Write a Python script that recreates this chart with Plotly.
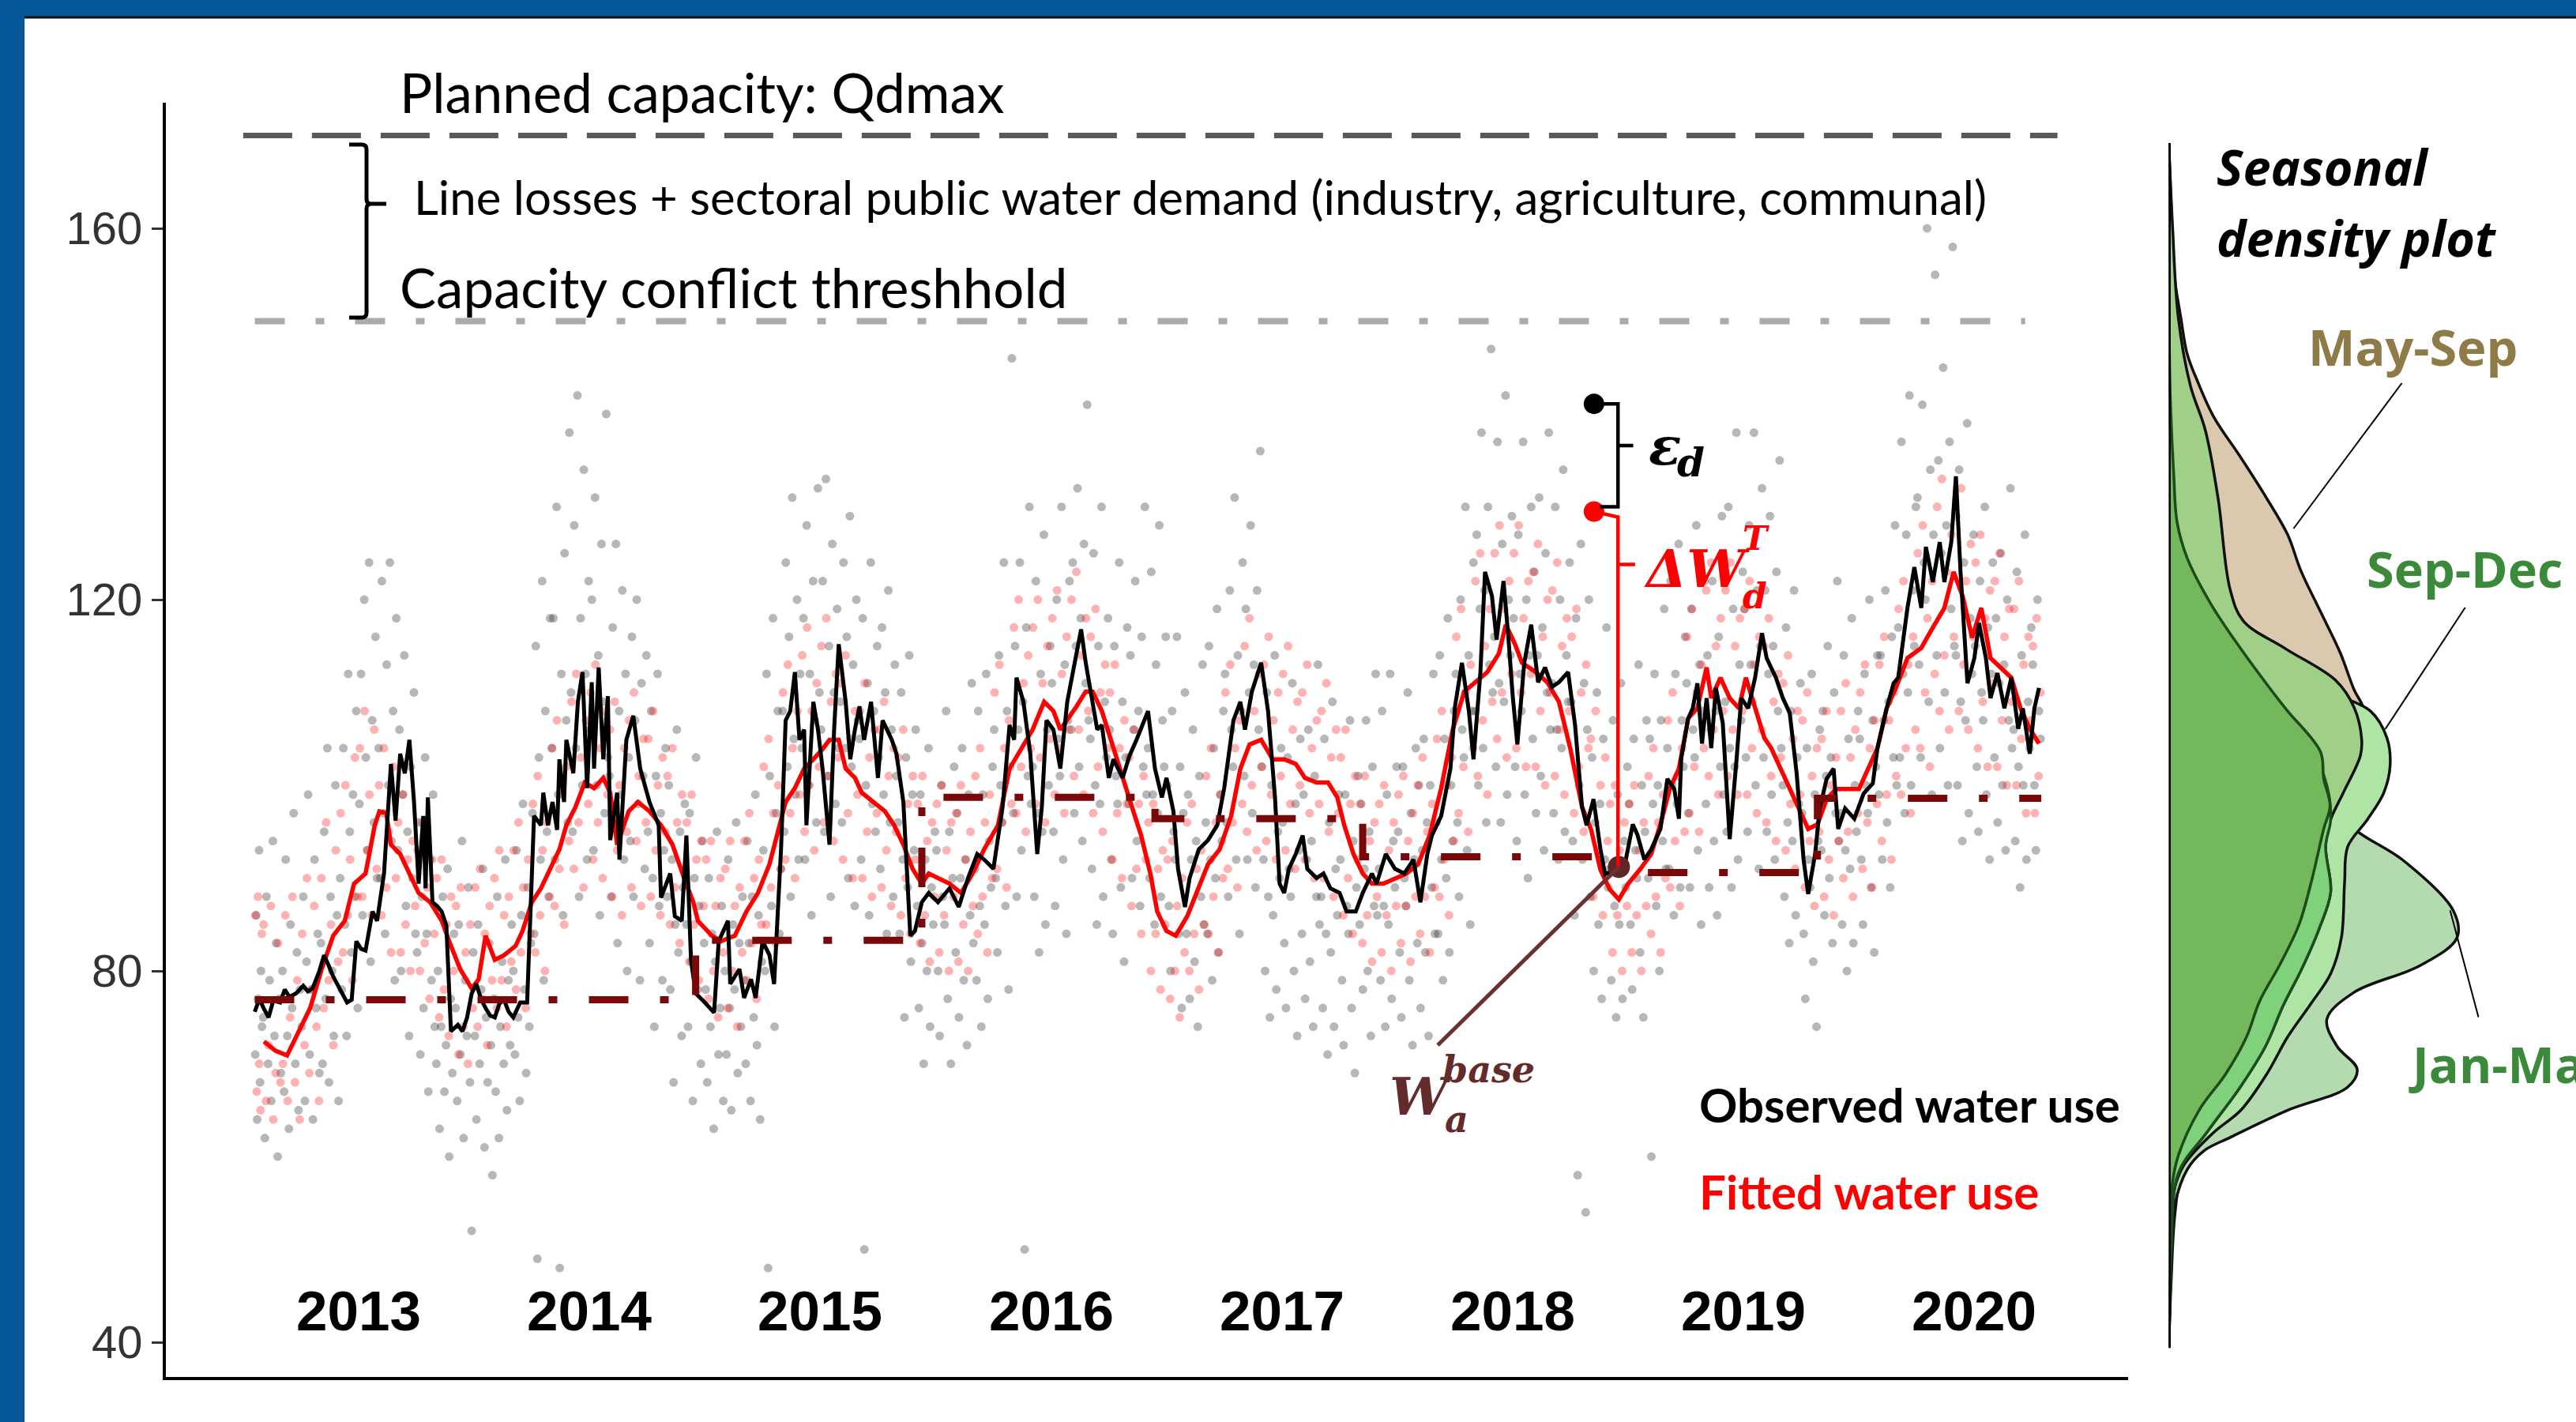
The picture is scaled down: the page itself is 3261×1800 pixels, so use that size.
import plotly.graph_objects as go

W, H = 3261, 1800

# ---------------------------------------------------------------- data
SERIES_START, SERIES_END = 2013.05, 2020.79
YEARS = [2013, 2014, 2015, 2016, 2017, 2018, 2019, 2020]
Y_TICKS = [40, 80, 120, 160]

QDMAX = 170
QDMAX_SPAN = (2013.0, 2020.86)
CONFLICT_THRESHOLD = 150
THRESHOLD_SPAN = (2013.05, 2020.72)

# rolling mean of observed water use (decimal year, value)
OBS_ROLLING = [
    (2013.05, 75.6), (2013.07, 77.0), (2013.09, 75.9), (2013.11, 75.0), (2013.13, 76.8), (2013.16, 76.6),
    (2013.18, 78.0), (2013.20, 77.2), (2013.23, 77.6), (2013.26, 78.4), (2013.28, 77.8), (2013.30, 78.1),
    (2013.33, 80.0), (2013.35, 81.7), (2013.37, 80.6), (2013.39, 79.4), (2013.42, 78.0), (2013.45, 76.6),
    (2013.47, 76.9), (2013.49, 83.2), (2013.51, 82.4), (2013.53, 82.2), (2013.56, 86.4), (2013.58, 85.4),
    (2013.61, 90.5), (2013.64, 102.3), (2013.66, 96.2), (2013.68, 103.4), (2013.70, 101.3), (2013.72, 104.9),
    (2013.74, 98.2), (2013.76, 89.4), (2013.78, 96.7), (2013.79, 88.9), (2013.80, 98.7), (2013.82, 87.4),
    (2013.84, 87.0), (2013.86, 86.4), (2013.88, 84.9), (2013.90, 73.5), (2013.93, 74.2), (2013.95, 73.5),
    (2013.97, 75.0), (2013.99, 77.6), (2014.01, 78.6), (2014.03, 77.0), (2014.05, 76.0), (2014.07, 75.2),
    (2014.09, 75.0), (2014.11, 76.5), (2014.13, 76.9), (2014.15, 75.6), (2014.17, 75.0), (2014.20, 76.6),
    (2014.23, 76.6), (2014.24, 84.3), (2014.26, 96.7), (2014.29, 95.7), (2014.30, 99.2), (2014.32, 95.7),
    (2014.34, 98.2), (2014.36, 95.2), (2014.37, 102.8), (2014.39, 98.2), (2014.40, 104.9), (2014.43, 101.3),
    (2014.45, 109.0), (2014.47, 112.2), (2014.49, 99.7), (2014.51, 111.1), (2014.52, 101.8), (2014.54, 112.7),
    (2014.56, 102.8), (2014.58, 109.6), (2014.59, 94.1), (2014.62, 99.2), (2014.63, 92.0), (2014.66, 104.9),
    (2014.69, 107.5), (2014.72, 101.8), (2014.76, 98.2), (2014.80, 95.7), (2014.81, 87.9), (2014.85, 90.5),
    (2014.87, 85.9), (2014.90, 85.4), (2014.92, 94.6), (2014.94, 81.2), (2014.96, 77.6), (2015.00, 76.6),
    (2015.04, 75.5), (2015.06, 83.2), (2015.10, 85.4), (2015.11, 78.6), (2015.15, 80.2), (2015.17, 77.1),
    (2015.20, 79.1), (2015.22, 77.1), (2015.25, 83.2), (2015.28, 81.7), (2015.30, 78.6), (2015.33, 93.1),
    (2015.35, 107.0), (2015.37, 108.0), (2015.39, 112.2), (2015.41, 104.9), (2015.43, 106.0), (2015.44, 95.7),
    (2015.47, 109.0), (2015.49, 106.0), (2015.51, 101.8), (2015.54, 93.6), (2015.56, 106.0), (2015.58, 115.2),
    (2015.61, 109.0), (2015.63, 102.8), (2015.65, 106.0), (2015.67, 108.5), (2015.69, 104.9), (2015.72, 109.0),
    (2015.75, 100.8), (2015.77, 107.0), (2015.81, 104.9), (2015.83, 103.4), (2015.86, 98.2), (2015.89, 83.8),
    (2015.91, 84.3), (2015.94, 87.4), (2015.97, 88.4), (2016.01, 87.4), (2016.06, 88.9), (2016.10, 86.9),
    (2016.14, 90.0), (2016.18, 92.6), (2016.21, 92.0), (2016.25, 91.0), (2016.29, 97.7), (2016.32, 106.5),
    (2016.34, 104.9), (2016.35, 111.6), (2016.38, 109.0), (2016.41, 103.4), (2016.44, 92.6), (2016.46, 97.7),
    (2016.48, 107.0), (2016.51, 106.0), (2016.54, 101.8), (2016.57, 109.0), (2016.60, 113.2), (2016.63, 116.8),
    (2016.65, 113.2), (2016.67, 110.1), (2016.70, 106.0), (2016.72, 106.5), (2016.75, 100.8), (2016.77, 102.8),
    (2016.81, 100.8), (2016.84, 103.2), (2016.87, 104.9), (2016.92, 108.0), (2016.95, 101.8), (2016.98, 98.7),
    (2017.00, 100.8), (2017.03, 97.2), (2017.05, 91.0), (2017.08, 86.9), (2017.10, 90.0), (2017.14, 93.1),
    (2017.18, 94.1), (2017.22, 95.7), (2017.25, 99.7), (2017.29, 107.0), (2017.32, 109.0), (2017.34, 106.0),
    (2017.37, 110.1), (2017.41, 113.2), (2017.44, 108.0), (2017.47, 98.7), (2017.49, 89.4), (2017.51, 88.4),
    (2017.53, 91.0), (2017.56, 92.6), (2017.59, 94.6), (2017.61, 91.0), (2017.65, 90.0), (2017.68, 90.5),
    (2017.71, 88.9), (2017.75, 88.4), (2017.78, 86.4), (2017.82, 86.4), (2017.85, 88.4), (2017.89, 90.5),
    (2017.91, 89.4), (2017.95, 92.6), (2017.99, 91.0), (2018.03, 90.5), (2018.07, 92.0), (2018.10, 87.4),
    (2018.13, 92.6), (2018.15, 94.6), (2018.19, 96.7), (2018.23, 101.8), (2018.25, 108.5), (2018.28, 113.2),
    (2018.31, 108.0), (2018.33, 102.8), (2018.36, 112.2), (2018.38, 123.0), (2018.41, 120.4), (2018.43, 115.7),
    (2018.46, 122.0), (2018.48, 116.3), (2018.50, 109.6), (2018.52, 104.4), (2018.55, 113.2), (2018.58, 117.3),
    (2018.61, 111.1), (2018.64, 112.7), (2018.67, 110.6), (2018.70, 111.1), (2018.74, 112.2), (2018.77, 106.5),
    (2018.80, 97.7), (2018.82, 95.7), (2018.85, 98.5), (2018.88, 93.1), (2018.90, 90.4), (2018.94, 90.9),
    (2018.99, 92.0), (2019.02, 95.8), (2019.04, 94.7), (2019.07, 92.0), (2019.10, 93.1), (2019.14, 95.3),
    (2019.17, 100.7), (2019.20, 99.6), (2019.22, 96.4), (2019.23, 102.9), (2019.26, 107.2), (2019.28, 108.3),
    (2019.30, 111.0), (2019.32, 104.5), (2019.34, 109.4), (2019.36, 104.0), (2019.38, 110.5), (2019.41, 106.7),
    (2019.44, 94.2), (2019.47, 102.9), (2019.49, 109.4), (2019.52, 108.3), (2019.55, 111.6), (2019.58, 116.4),
    (2019.60, 113.7), (2019.64, 111.6), (2019.67, 109.4), (2019.70, 107.8), (2019.73, 101.3), (2019.76, 92.0),
    (2019.78, 88.3), (2019.81, 92.6), (2019.83, 97.5), (2019.86, 100.7), (2019.89, 101.8), (2019.91, 95.3),
    (2019.94, 97.5), (2019.98, 96.4), (2020.02, 99.1), (2020.06, 100.2), (2020.08, 104.0), (2020.12, 108.3),
    (2020.15, 111.0), (2020.17, 111.6), (2020.21, 119.1), (2020.24, 123.5), (2020.27, 119.1), (2020.29, 125.7),
    (2020.32, 121.9), (2020.35, 126.2), (2020.37, 121.9), (2020.40, 126.2), (2020.42, 133.3), (2020.44, 123.0),
    (2020.47, 111.0), (2020.50, 113.7), (2020.52, 117.5), (2020.55, 113.7), (2020.57, 109.4), (2020.60, 112.1),
    (2020.63, 108.3), (2020.66, 111.6), (2020.69, 106.1), (2020.71, 108.3), (2020.74, 103.4), (2020.76, 108.3),
    (2020.78, 110.5),
]

# rolling mean of fitted water use (decimal year, value)
FIT_ROLLING = [
    (2013.09, 72.4), (2013.14, 71.4), (2013.19, 70.9), (2013.24, 73.5), (2013.29, 76.0), (2013.34, 80.2),
    (2013.39, 83.8), (2013.44, 85.4), (2013.48, 89.4), (2013.53, 90.5), (2013.57, 95.7), (2013.59, 97.2),
    (2013.62, 97.0), (2013.64, 93.6), (2013.68, 92.6), (2013.72, 90.5), (2013.76, 88.4), (2013.81, 87.4),
    (2013.86, 85.4), (2013.90, 82.7), (2013.94, 80.2), (2013.99, 78.1), (2014.02, 79.1), (2014.05, 83.8),
    (2014.09, 81.2), (2014.13, 81.7), (2014.18, 82.7), (2014.21, 84.3), (2014.25, 87.4), (2014.29, 88.9),
    (2014.33, 91.0), (2014.37, 93.1), (2014.40, 95.7), (2014.44, 97.7), (2014.48, 100.3), (2014.52, 99.7),
    (2014.56, 100.8), (2014.59, 99.2), (2014.62, 93.6), (2014.67, 97.2), (2014.71, 98.2), (2014.76, 97.2),
    (2014.81, 95.7), (2014.86, 93.6), (2014.91, 90.0), (2014.95, 87.4), (2014.97, 85.4), (2015.03, 83.8),
    (2015.07, 83.2), (2015.13, 83.8), (2015.18, 86.4), (2015.23, 88.4), (2015.28, 91.5), (2015.32, 95.2),
    (2015.35, 98.2), (2015.39, 99.7), (2015.43, 101.8), (2015.47, 102.8), (2015.51, 103.9), (2015.54, 104.9),
    (2015.58, 104.9), (2015.61, 101.8), (2015.65, 100.8), (2015.68, 99.2), (2015.73, 98.2), (2015.78, 97.2),
    (2015.82, 95.7), (2015.86, 93.6), (2015.90, 91.0), (2015.94, 89.4), (2015.97, 90.5), (2016.01, 90.0),
    (2016.06, 89.4), (2016.11, 88.4), (2016.16, 90.5), (2016.21, 93.1), (2016.27, 95.7), (2016.32, 101.8),
    (2016.37, 103.9), (2016.42, 106.0), (2016.47, 109.0), (2016.51, 108.0), (2016.54, 106.0), (2016.57, 107.0),
    (2016.61, 108.5), (2016.65, 110.1), (2016.68, 110.1), (2016.72, 108.0), (2016.77, 103.9), (2016.81, 100.8),
    (2016.85, 97.7), (2016.89, 94.6), (2016.93, 90.5), (2016.96, 86.4), (2017.00, 84.3), (2017.04, 83.8),
    (2017.09, 85.9), (2017.13, 88.4), (2017.18, 91.5), (2017.23, 93.1), (2017.28, 96.7), (2017.32, 101.8),
    (2017.36, 104.4), (2017.41, 104.9), (2017.46, 102.8), (2017.51, 102.8), (2017.56, 102.3), (2017.60, 100.8),
    (2017.65, 100.3), (2017.70, 100.3), (2017.74, 98.7), (2017.77, 95.7), (2017.81, 92.6), (2017.85, 90.5),
    (2017.89, 89.4), (2017.94, 89.4), (2017.99, 90.0), (2018.04, 90.5), (2018.09, 91.5), (2018.14, 94.6),
    (2018.19, 99.7), (2018.24, 106.0), (2018.29, 110.1), (2018.34, 111.1), (2018.39, 112.2), (2018.44, 114.2),
    (2018.47, 117.3), (2018.51, 115.2), (2018.54, 113.2), (2018.60, 112.2), (2018.65, 111.1), (2018.70, 109.0),
    (2018.75, 103.9), (2018.80, 97.7), (2018.84, 95.2), (2018.88, 90.9), (2018.92, 88.8), (2018.96, 87.7),
    (2019.00, 89.4), (2019.05, 90.9), (2019.10, 92.6), (2019.14, 95.8), (2019.18, 99.6), (2019.22, 101.8),
    (2019.26, 107.2), (2019.30, 108.3), (2019.34, 112.7), (2019.36, 109.4), (2019.40, 111.6), (2019.44, 109.4),
    (2019.48, 108.3), (2019.51, 111.6), (2019.55, 108.3), (2019.59, 105.1), (2019.62, 104.0), (2019.66, 101.8),
    (2019.70, 99.6), (2019.74, 97.5), (2019.78, 95.3), (2019.82, 95.8), (2019.86, 98.5), (2019.90, 99.6),
    (2019.95, 99.6), (2020.00, 99.6), (2020.04, 101.8), (2020.08, 104.0), (2020.12, 108.3), (2020.16, 110.5),
    (2020.21, 113.7), (2020.27, 114.8), (2020.32, 117.0), (2020.37, 119.1), (2020.41, 123.0), (2020.45, 120.3),
    (2020.49, 115.9), (2020.53, 119.1), (2020.57, 113.7), (2020.61, 112.7), (2020.66, 111.6), (2020.70, 108.3),
    (2020.74, 106.1), (2020.78, 104.5),
]

# annual base water use (step levels)
BASE_START = [2013.05, 2014.96, 2015.94, 2016.95, 2017.85, 2018.96, 2019.82]
BASE_END = [2014.96, 2015.94, 2016.95, 2017.85, 2018.96, 2019.82, 2020.79]
BASE_LEVEL = [76.9, 83.3, 98.7, 96.4, 92.3, 90.6, 98.6]

# highlighted example day
EXAMPLE_DAY = 2018.852
EXAMPLE_OBS = 141.1
EXAMPLE_FIT = 129.5
BASE_DAY = 2018.96
BASE_AT_DAY = 91.2

# daily observed water use, listed month by month
OBS_DAILY = {
    2013: [
        [71, 86, 64, 77, 93, 68, 80, 74],
        [75, 62, 88, 70, 79, 66, 94, 73, 83, 60, 77, 69],
        [80, 67, 92, 73, 63, 85, 76, 97, 70, 82, 65, 78],
        [74, 88, 66, 81, 99, 71, 78, 64, 92, 76, 84, 69],
        [83, 70, 95, 77, 104, 68, 88, 80, 73, 100, 86, 66],
        [90, 78, 104, 85, 73, 112, 95, 82, 99, 88, 108, 76],
        [98, 112, 86, 120, 103, 93, 124, 81, 107, 96, 116, 90],
        [104, 90, 122, 97, 84, 113, 100, 124, 94, 108, 79, 118],
        [93, 106, 80, 99, 114, 87, 95, 73, 102, 90, 110, 84],
        [82, 96, 71, 88, 76, 103, 84, 67, 92, 79, 99, 74],
        [70, 80, 63, 74, 88, 67, 72, 91, 60, 77, 69, 84],
        [76, 66, 85, 71, 94, 62, 79, 73, 89, 68, 52, 82],
    ],
    2014: [
        [73, 64, 85, 70, 78, 91, 61, 75, 68, 83, 72, 58],
        [77, 67, 88, 62, 74, 81, 70, 92, 65, 79, 72, 85],
        [80, 71, 93, 75, 66, 86, 98, 78, 69, 89, 74, 83],
        [97, 84, 115, 49, 103, 92, 122, 79, 108, 95, 88, 118],
        [104, 118, 92, 130, 99, 48, 112, 86, 125, 107, 96, 138],
        [110, 95, 128, 104, 142, 88, 118, 100, 134, 112, 92, 122],
        [106, 120, 93, 131, 100, 114, 86, 126, 109, 97, 140, 103],
        [101, 88, 117, 96, 126, 83, 108, 99, 121, 92, 112, 80],
        [103, 94, 116, 88, 107, 120, 98, 79, 111, 101, 91, 114],
        [95, 83, 108, 90, 74, 101, 112, 87, 97, 79, 93, 104],
        [88, 100, 78, 92, 68, 85, 106, 82, 95, 73, 89, 98],
        [85, 74, 97, 81, 66, 90, 103, 78, 87, 70, 94, 83],
    ],
    2015: [
        [78, 68, 90, 74, 84, 63, 81, 95, 71, 76, 87, 66],
        [80, 71, 92, 76, 65, 85, 78, 96, 69, 83, 74, 88],
        [79, 70, 94, 83, 66, 88, 75, 99, 72, 86, 64, 81],
        [93, 80, 112, 48, 101, 87, 118, 74, 97, 108, 84, 91],
        [108, 95, 124, 102, 116, 88, 131, 105, 99, 120, 92, 112],
        [104, 118, 92, 128, 100, 112, 86, 122, 107, 96, 132, 110],
        [106, 122, 95, 133, 101, 115, 88, 126, 110, 98, 119, 104],
        [109, 96, 124, 104, 116, 90, 129, 102, 113, 87, 120, 107],
        [105, 92, 118, 50, 100, 111, 86, 124, 98, 108, 95, 115],
        [103, 91, 117, 99, 110, 84, 121, 96, 106, 88, 113, 101],
        [96, 84, 110, 92, 75, 103, 89, 114, 81, 99, 93, 106],
        [87, 76, 99, 83, 70, 92, 80, 104, 74, 89, 85, 95],
    ],
    2016: [
        [93, 80, 73, 100, 88, 85, 108, 77, 95, 70, 90, 102],
        [82, 97, 75, 90, 104, 79, 92, 72, 99, 86, 111, 83],
        [91, 79, 108, 87, 74, 99, 85, 112, 77, 94, 89, 102],
        [106, 90, 82, 114, 100, 96, 124, 87, 108, 78, 102, 146],
        [97, 115, 88, 106, 124, 93, 109, 50, 117, 101, 130, 98],
        [102, 88, 122, 97, 82, 112, 95, 127, 85, 106, 100, 115],
        [111, 95, 87, 120, 105, 101, 130, 92, 113, 84, 107, 122],
        [106, 124, 97, 115, 132, 102, 118, 94, 126, 111, 141, 107],
        [105, 91, 125, 100, 85, 115, 98, 130, 88, 109, 103, 118],
        [106, 92, 84, 115, 101, 98, 124, 89, 109, 81, 103, 117],
        [98, 114, 90, 106, 122, 94, 108, 87, 116, 102, 130, 99],
        [104, 90, 123, 99, 85, 113, 97, 128, 88, 107, 102, 116],
    ],
    2017: [
        [100, 87, 80, 108, 95, 92, 116, 84, 102, 76, 97, 110],
        [84, 99, 77, 92, 106, 81, 94, 74, 101, 88, 113, 85],
        [96, 84, 115, 92, 79, 104, 90, 119, 82, 99, 94, 108],
        [112, 96, 88, 121, 106, 102, 131, 92, 114, 84, 108, 124],
        [101, 119, 92, 110, 128, 97, 113, 89, 121, 106, 136, 102],
        [92, 80, 110, 88, 75, 100, 86, 114, 78, 95, 90, 104],
        [96, 83, 76, 103, 91, 88, 111, 80, 98, 73, 93, 105],
        [84, 99, 77, 92, 106, 81, 94, 74, 101, 88, 113, 85],
        [88, 76, 105, 84, 71, 96, 82, 109, 74, 91, 86, 99],
        [92, 79, 72, 99, 87, 84, 107, 76, 94, 69, 89, 101],
        [85, 98, 78, 91, 107, 80, 95, 73, 102, 87, 112, 86],
        [91, 79, 108, 87, 74, 99, 85, 112, 77, 94, 89, 102],
    ],
    2018: [
        [95, 82, 75, 102, 90, 87, 110, 79, 97, 72, 92, 104],
        [83, 100, 76, 93, 105, 82, 96, 73, 100, 89, 112, 84],
        [96, 84, 114, 92, 79, 105, 90, 118, 82, 100, 94, 108],
        [112, 96, 88, 120, 106, 103, 130, 93, 114, 85, 108, 124],
        [108, 127, 100, 119, 138, 104, 121, 96, 130, 113, 147, 110],
        [116, 102, 137, 111, 96, 126, 109, 142, 99, 120, 114, 129],
        [118, 102, 94, 127, 112, 108, 137, 99, 120, 90, 114, 130],
        [105, 123, 97, 114, 131, 101, 117, 93, 125, 110, 138, 106],
        [111, 97, 130, 106, 92, 120, 104, 134, 95, 114, 109, 124],
        [109, 94, 86, 118, 58, 100, 126, 92, 111, 54, 106, 120],
        [88, 103, 80, 96, 110, 85, 98, 77, 105, 92, 117, 89],
        [91, 79, 107, 87, 75, 99, 85, 111, 77, 94, 89, 102],
    ],
    2019: [
        [98, 85, 78, 105, 93, 90, 113, 82, 100, 75, 95, 107],
        [90, 105, 60, 98, 112, 87, 100, 80, 107, 94, 119, 91],
        [104, 91, 122, 100, 86, 112, 98, 126, 89, 107, 102, 116],
        [111, 97, 89, 119, 106, 103, 128, 93, 113, 85, 108, 122],
        [98, 114, 89, 106, 122, 94, 108, 86, 116, 102, 129, 99],
        [109, 95, 130, 104, 89, 119, 102, 138, 92, 113, 107, 123],
        [119, 103, 95, 128, 113, 109, 138, 100, 121, 91, 115, 132],
        [103, 121, 95, 112, 129, 99, 115, 92, 123, 108, 135, 104],
        [100, 88, 117, 96, 83, 108, 94, 121, 86, 103, 98, 111],
        [97, 84, 77, 104, 92, 89, 112, 81, 99, 74, 94, 106],
        [93, 108, 86, 101, 115, 90, 103, 83, 110, 97, 122, 94],
        [97, 85, 114, 93, 80, 105, 91, 118, 83, 100, 95, 108],
    ],
    2020: [
        [105, 92, 85, 112, 100, 97, 120, 89, 107, 82, 102, 114],
        [99, 114, 92, 107, 121, 96, 109, 89, 116, 103, 128, 100],
        [117, 103, 137, 112, 97, 127, 110, 142, 100, 121, 115, 130],
        [131, 113, 103, 141, 124, 120, 160, 109, 134, 99, 127, 155],
        [114, 135, 104, 125, 145, 110, 128, 100, 137, 119, 158, 115],
        [114, 100, 134, 109, 94, 124, 107, 139, 97, 118, 112, 127],
        [115, 102, 95, 122, 110, 107, 130, 99, 117, 92, 112, 124],
        [103, 118, 96, 111, 125, 100, 113, 93, 120, 107, 132, 104],
        [106, 94, 123, 102, 89, 114, 100, 127, 92, 109, 104, 117],
        [113, 100, 93, 120, 108, 105],
    ],
}

# daily fitted water use, listed month by month
FIT_DAILY = {
    2013: [
        [86, 67, 88, 70, 65, 84],
        [85, 66, 72, 87, 64, 69, 83, 68],
        [70, 86, 66, 75, 88, 68, 79, 64],
        [84, 72, 90, 69, 78, 87, 74, 66],
        [90, 76, 96, 79, 85, 72, 93, 81],
        [97, 82, 100, 86, 92, 79, 103, 88],
        [104, 88, 108, 93, 99, 86, 106, 91],
        [100, 86, 104, 89, 95, 82, 102, 90],
        [96, 82, 99, 85, 92, 80, 94, 87],
        [93, 80, 96, 83, 89, 77, 92, 84],
        [90, 75, 92, 78, 85, 73, 88, 80],
        [87, 71, 89, 74, 82, 70, 85, 76],
    ],
    2014: [
        [89, 74, 91, 77, 84, 72, 87, 79],
        [90, 76, 93, 79, 86, 74, 88, 81],
        [93, 78, 96, 82, 89, 76, 92, 84],
        [98, 82, 101, 86, 93, 80, 96, 88],
        [104, 87, 107, 91, 99, 85, 102, 94],
        [109, 91, 112, 96, 103, 89, 107, 98],
        [110, 92, 113, 96, 104, 90, 108, 99],
        [106, 88, 109, 93, 100, 86, 104, 95],
        [107, 89, 110, 94, 101, 87, 105, 96],
        [105, 88, 108, 93, 100, 86, 103, 95],
        [101, 85, 104, 89, 96, 83, 99, 91],
        [96, 81, 99, 85, 92, 79, 94, 87],
    ],
    2015: [
        [92, 77, 94, 80, 87, 75, 90, 82],
        [91, 76, 94, 80, 87, 74, 89, 82],
        [94, 79, 97, 83, 90, 77, 92, 85],
        [102, 85, 105, 89, 97, 83, 100, 91],
        [110, 92, 113, 97, 104, 90, 108, 99],
        [114, 95, 117, 100, 108, 93, 111, 102],
        [115, 96, 118, 101, 109, 94, 112, 103],
        [111, 92, 114, 97, 105, 90, 108, 99],
        [108, 90, 111, 95, 103, 88, 106, 97],
        [106, 89, 109, 93, 101, 87, 104, 95],
        [103, 86, 106, 90, 98, 84, 101, 92],
        [98, 83, 101, 86, 94, 81, 96, 88],
    ],
    2016: [
        [98, 82, 100, 86, 93, 80, 96, 88],
        [97, 81, 100, 85, 92, 80, 95, 87],
        [101, 84, 104, 88, 96, 82, 99, 90],
        [110, 91, 113, 96, 104, 89, 107, 98],
        [117, 97, 120, 102, 111, 95, 114, 104],
        [117, 98, 120, 103, 111, 96, 115, 105],
        [118, 99, 121, 104, 112, 97, 116, 106],
        [120, 101, 123, 106, 114, 99, 118, 108],
        [116, 97, 119, 102, 110, 95, 113, 104],
        [110, 92, 113, 97, 104, 90, 107, 98],
        [103, 87, 106, 91, 98, 84, 101, 92],
        [96, 80, 98, 84, 91, 78, 93, 85],
    ],
    2017: [
        [92, 77, 94, 80, 87, 75, 90, 82],
        [96, 80, 98, 84, 91, 78, 93, 85],
        [101, 84, 104, 88, 96, 82, 99, 90],
        [110, 91, 113, 96, 104, 89, 107, 98],
        [115, 95, 118, 100, 108, 93, 112, 102],
        [113, 94, 116, 99, 107, 92, 110, 101],
        [112, 93, 115, 98, 106, 91, 109, 100],
        [110, 92, 113, 97, 104, 90, 107, 98],
        [108, 90, 111, 95, 103, 88, 106, 97],
        [103, 86, 106, 90, 98, 84, 101, 92],
        [98, 83, 101, 86, 94, 81, 96, 88],
        [98, 82, 100, 86, 93, 80, 96, 87],
    ],
    2018: [
        [99, 83, 101, 87, 94, 81, 97, 88],
        [100, 84, 103, 88, 95, 82, 98, 89],
        [105, 88, 108, 92, 100, 86, 103, 94],
        [116, 97, 119, 102, 110, 95, 113, 104],
        [122, 101, 125, 107, 115, 99, 119, 109],
        [125, 105, 128, 110, 119, 103, 122, 112],
        [125, 104, 128, 110, 118, 102, 122, 112],
        [123, 102, 126, 108, 116, 100, 120, 110],
        [121, 101, 124, 106, 115, 99, 118, 108],
        [116, 97, 119, 102, 110, 95, 113, 104],
        [105, 88, 108, 93, 100, 86, 103, 94],
        [98, 82, 100, 86, 93, 80, 96, 87],
    ],
    2019: [
        [98, 82, 100, 86, 93, 80, 96, 87],
        [101, 84, 104, 88, 96, 82, 99, 90],
        [107, 89, 110, 94, 101, 87, 104, 95],
        [116, 97, 119, 102, 110, 95, 113, 104],
        [121, 101, 124, 106, 115, 99, 118, 108],
        [121, 101, 124, 106, 115, 99, 118, 108],
        [119, 99, 122, 104, 113, 97, 116, 106],
        [115, 96, 118, 101, 109, 94, 112, 103],
        [111, 93, 114, 98, 105, 91, 108, 99],
        [107, 89, 110, 94, 101, 87, 104, 95],
        [105, 88, 108, 92, 100, 86, 103, 94],
        [108, 90, 111, 95, 103, 88, 106, 97],
    ],
    2020: [
        [110, 91, 113, 96, 104, 89, 107, 98],
        [113, 94, 116, 99, 107, 92, 110, 101],
        [119, 99, 122, 104, 113, 97, 116, 106],
        [125, 104, 128, 110, 118, 102, 122, 112],
        [130, 108, 133, 114, 123, 106, 127, 116],
        [129, 108, 132, 113, 122, 106, 126, 116],
        [124, 104, 127, 109, 118, 102, 121, 111],
        [122, 102, 125, 107, 116, 100, 119, 109],
        [119, 100, 122, 105, 113, 97, 116, 107],
        [115, 97, 118, 101, 110],
    ],
}

# seasonal densities of daily water use (value, density)
DENS_MAYSEP_Y = [169.2, 162, 155.3, 150.4, 146.5, 143.6, 139.7, 135.3, 130.9, 127.0, 123.1, 118.7, 114.3, 110.3,
                 108.0, 103, 98, 93, 88, 83, 78, 72, 66, 60, 54, 47, 39.4]
DENS_MAYSEP_D = [0, 0.0004, 0.0008, 0.0019, 0.0029, 0.0045, 0.0071, 0.0114, 0.0155, 0.0188, 0.0209, 0.024,
                 0.0271, 0.0293, 0.0309, 0.0298, 0.0269, 0.0244, 0.0231, 0.02, 0.0163, 0.0119, 0.0069, 0.0025,
                 0.001, 0.0004, 0]
DENS_JANMAR_Y = [169.2, 150, 135, 125, 115, 105, 100, 95.3, 91.9, 86.5, 83.6, 80.6, 77.7, 74.8, 71.9, 69.4,
                 67.5, 65.0, 62.1, 60.6, 58.6, 54.3, 47, 39.4]
DENS_JANMAR_D = [0, 0.0001, 0.0006, 0.0025, 0.0075, 0.0163, 0.0225, 0.0293, 0.0371, 0.045, 0.0456, 0.0398,
                 0.0293, 0.025, 0.0266, 0.0298, 0.0283, 0.0188, 0.0098, 0.0055, 0.0029, 0.0008, 0.0003, 0]
DENS_SEPDEC_Y = [169.2, 150, 140, 130, 120, 115, 112, 110, 108.0, 105.1, 102.1, 99.2, 96.3, 93.4, 89.5, 83.6,
                 79.7, 76.3, 72.9, 68.9, 65.0, 62.6, 59.1, 56.2, 47, 39.4]
DENS_SEPDEC_D = [0, 0.0003, 0.0008, 0.0025, 0.0075, 0.0138, 0.02, 0.0256, 0.0319, 0.0345, 0.035, 0.034, 0.0314,
                 0.0283, 0.0278, 0.0273, 0.0256, 0.0223, 0.0188, 0.0155, 0.0114, 0.0071, 0.0024, 0.0008, 0.0003, 0]
DENS_MARMAY_Y = [169.2, 160.2, 150.4, 143.1, 138.2, 130.9, 121.1, 117.7, 114.7, 111.3, 108.4, 105, 103.2, 99.2,
                 96.3, 93.4, 88.5, 84.6, 80.2, 76.3, 71.9, 67.5, 62.6, 58.2, 50, 39.4]
DENS_MARMAY_D = [0, 0.0006, 0.0015, 0.0034, 0.0058, 0.0078, 0.0097, 0.0118, 0.0185, 0.0264, 0.0293, 0.0305,
                 0.0303, 0.0276, 0.0256, 0.0248, 0.0256, 0.0238, 0.021, 0.0181, 0.0153, 0.0113, 0.006, 0.0015,
                 0.0004, 0]
DENS_OCTNOV_Y = [169.2, 140, 120, 110, 104, 100, 96.3, 93.4, 88.5, 84.6, 80.2, 76.3, 71.9, 67.5, 62.6, 58.2,
                 50, 39.4]
DENS_OCTNOV_D = [0, 0.0001, 0.0038, 0.015, 0.0225, 0.025, 0.0256, 0.0248, 0.0256, 0.0238, 0.021, 0.0181, 0.0153,
                 0.0113, 0.006, 0.0015, 0.0004, 0]
DENS_ALL_Y = [169.2, 146.5, 140.6, 133.3, 128.4, 124.5, 119.6, 114.7, 109.9, 108.0, 103.6, 100.7, 97.8, 95.3,
              89.5, 85.0, 80.6, 76.8, 72.9, 68.9, 65.0, 60.1, 56.7, 48, 39.4]
DENS_ALL_D = [0, 0.0001, 0.0003, 0.0008, 0.0013, 0.0029, 0.0066, 0.0114, 0.0166, 0.0188, 0.024, 0.0245, 0.0255,
              0.0245, 0.0225, 0.0206, 0.0175, 0.0144, 0.0123, 0.009, 0.0048, 0.0015, 0.0005, 0.0002, 0]
DENS_MAX = 0.0644

# ---------------------------------------------------------------- helpers
def px(x, y):
    """pixel position on the page -> paper coordinates"""
    return x / W, 1 - y / H


def daily_points(table):
    xs, ys = [], []
    for year, months in table.items():
        for m, vals in enumerate(months):
            a = max(year + m / 12.0, SERIES_START)
            b = min(year + (m + 1) / 12.0, SERIES_END)
            step = (b - a) / len(vals)
            for k, v in enumerate(vals):
                xs.append(a + (k + 0.5) * step)
                ys.append(v)
    return xs, ys


fig = go.Figure()

# daily points
ox, oy = daily_points(OBS_DAILY)
fig.add_trace(go.Scatter(x=ox, y=oy, mode="markers",
                         marker=dict(size=11, color="rgba(30,30,30,0.32)", line=dict(width=0))))
fx, fy = daily_points(FIT_DAILY)
fig.add_trace(go.Scatter(x=fx, y=fy, mode="markers",
                         marker=dict(size=11, color="rgba(255,0,0,0.3)", line=dict(width=0))))

# capacity lines
fig.add_trace(go.Scatter(x=list(QDMAX_SPAN), y=[QDMAX, QDMAX], mode="lines",
                         line=dict(color="#595959", width=7, dash="62px,25px")))
fig.add_trace(go.Scatter(x=list(THRESHOLD_SPAN), y=[CONFLICT_THRESHOLD] * 2, mode="lines",
                         line=dict(color="#ababab", width=8, dash="38px,39px,11px,39px")))

# rolling means
fig.add_trace(go.Scatter(x=[p[0] for p in FIT_ROLLING], y=[p[1] for p in FIT_ROLLING], mode="lines",
                         line=dict(color="#ff0000", width=5.5)))
fig.add_trace(go.Scatter(x=[p[0] for p in OBS_ROLLING], y=[p[1] for p in OBS_ROLLING], mode="lines",
                         line=dict(color="#000000", width=5)))

# base water use steps
fig.add_trace(go.Scatter(x=BASE_START + [BASE_END[-1]], y=BASE_LEVEL + [BASE_LEVEL[-1]], mode="lines",
                         line=dict(color="#7a0808", width=9, dash="50px,40px,11px,40px", shape="hv")))

# brackets for the example day
bx = BASE_DAY - 0.004
shapes = [
    dict(type="path", xref="x", yref="y", line=dict(color="black", width=4.5),
         path=f"M {EXAMPLE_DAY},{EXAMPLE_OBS} L {bx},{EXAMPLE_OBS} L {bx},{EXAMPLE_FIT + 0.5} "
              f"L {EXAMPLE_DAY + 0.026},{EXAMPLE_FIT + 0.5} M {bx},136.6 L {bx + 0.066},136.6"),
    dict(type="path", xref="x", yref="y", line=dict(color="#ff0000", width=4.5),
         path=f"M {EXAMPLE_DAY},{EXAMPLE_FIT} L {bx},{EXAMPLE_FIT - 0.6} L {bx},{BASE_AT_DAY} "
              f"M {bx},123.8 L {bx + 0.074},123.8"),
    dict(type="line", xref="x", yref="y", x0=BASE_DAY, y0=BASE_AT_DAY, x1=2018.175, y1=72.0,
         line=dict(color="#6b3030", width=5)),
]
fig.add_trace(go.Scatter(x=[EXAMPLE_DAY], y=[EXAMPLE_OBS], mode="markers",
                         marker=dict(size=26, color="black")))
fig.add_trace(go.Scatter(x=[EXAMPLE_DAY], y=[EXAMPLE_FIT], mode="markers",
                         marker=dict(size=26, color="#ff0000")))
fig.add_trace(go.Scatter(x=[BASE_DAY], y=[BASE_AT_DAY], mode="markers",
                         marker=dict(size=28, color="#5e2626")))

# seasonal density panel
for dy, dd, fill, edge in [
    (DENS_MAYSEP_Y, DENS_MAYSEP_D, "#dac9af", "#111111"),
    (DENS_JANMAR_Y, DENS_JANMAR_D, "#b4dbaf", "#111111"),
    (DENS_SEPDEC_Y, DENS_SEPDEC_D, "#aee5a5", "#111111"),
    (DENS_MARMAY_Y, DENS_MARMAY_D, "#a0cf87", "#111111"),
    (DENS_OCTNOV_Y, DENS_OCTNOV_D, "#7fd27b", "#1d4d1d"),
    (DENS_ALL_Y, DENS_ALL_D, "#74b85c", "#1b4a1b"),
]:
    fig.add_trace(go.Scatter(x=dd, y=dy, xaxis="x2", yaxis="y", mode="lines", fill="tozerox",
                             fillcolor=fill, line=dict(color=edge, width=3.5, shape="spline")))
fig.add_trace(go.Scatter(x=[0, 0], y=[39.4, 169.2], xaxis="x2", yaxis="y", mode="lines",
                         line=dict(color="black", width=5)))

# curly brace between the capacity lines
p = [px(442, 183), px(458, 183), px(464, 189), px(464, 252), px(470, 258), px(489, 258),
     px(464, 264), px(464, 396), px(458, 402), px(442, 402)]
brace = (f"M {p[0][0]},{p[0][1]} L {p[1][0]},{p[1][1]} Q {p[2][0]},{p[1][1]} {p[2][0]},{p[2][1]} "
         f"L {p[3][0]},{p[3][1]} Q {p[3][0]},{p[4][1]} {p[4][0]},{p[4][1]} L {p[5][0]},{p[5][1]} "
         f"M {p[4][0]},{p[4][1]} Q {p[6][0]},{p[4][1]} {p[6][0]},{p[6][1]} L {p[7][0]},{p[7][1]} "
         f"Q {p[7][0]},{p[8][1]} {p[8][0]},{p[8][1]} L {p[9][0]},{p[9][1]}")
shapes.append(dict(type="path", xref="paper", yref="paper", path=brace, line=dict(color="black", width=5)))

# leader lines of the density labels
for (x0, y0), (x1, y1) in [((3040.5, 485), (2903.5, 669)), ((3120.7, 769), (3019.5, 923)),
                           ((3101.7, 1152.6), (3137.5, 1287.5))]:
    a0, b0 = px(x0, y0)
    a1, b1 = px(x1, y1)
    shapes.append(dict(type="line", xref="paper", yref="paper", x0=a0, y0=b0, x1=a1, y1=b1,
                       line=dict(color="black", width=2)))

# page frame
shapes += [
    dict(type="rect", xref="paper", yref="paper", x0=0, x1=1, y0=1 - 21 / H, y1=1,
         fillcolor="#05579a", line=dict(width=0), layer="above"),
    dict(type="rect", xref="paper", yref="paper", x0=0, x1=31 / W, y0=0, y1=1,
         fillcolor="#05579a", line=dict(width=0), layer="above"),
    dict(type="line", xref="paper", yref="paper", x0=31 / W, x1=1, y0=1 - 22 / H, y1=1 - 22 / H,
         line=dict(color="#111111", width=3), layer="above"),
]

ann = []


def text_px(x, y, text, size, family="Lato", color="black", anchor="left"):
    a, b = px(x, y)
    ann.append(dict(x=a, y=b, xref="paper", yref="paper", text=text, showarrow=False, xanchor=anchor,
                    yanchor="middle", font=dict(family=family, size=size, color=color)))


def text_data(x, y, text, size, family="DejaVu Serif", color="black", anchor="left"):
    ann.append(dict(x=x, y=y, xref="x", yref="y", text=text, showarrow=False, xanchor=anchor,
                    yanchor="middle", font=dict(family=family, size=size, color=color)))


text_px(504, 117, "Planned capacity: Qdmax", 69)
text_px(522, 249, "Line losses + sectoral public water demand (industry, agriculture, communal)", 60)
text_px(504, 363, "Capacity conflict threshhold", 69)

text_px(2149, 1398, "<b>Observed water use</b>", 60)
text_px(2149, 1508, "<b>Fitted water use</b>", 60, color="#ff0000")

text_px(2804, 210, "<b><i>Seasonal</i></b>", 63, family="Open Sans")
text_px(2804, 301, "<b><i>density plot</i></b>", 63, family="Open Sans")
text_px(3054, 439, "<b>May-Sep</b>", 63, family="Open Sans", color="#8e7b47", anchor="center")
text_px(3120, 719, "<b>Sep-Dec</b>", 63, family="Open Sans", color="#3b8a3b", anchor="center")
text_px(3047, 1346, "<b>Jan-Mar</b>", 63, family="Open Sans", color="#3b8a3b")

for yr in YEARS:
    text_data(yr + 0.5, 43.4, f"<b>{yr}</b>", 71, family="Liberation Sans", anchor="center")

# symbols for the example day
text_data(2019.081, 136.6, "<b><i>ε</i></b>", 68)
text_data(2019.205, 134.8, "<b><i>d</i></b>", 50)
text_data(2019.06, 123.3, "<b><i>ΔW</i></b>", 66, color="#ff0000")
text_data(2019.49, 126.6, "<b><i>T</i></b>", 42, color="#ff0000")
text_data(2019.49, 120.4, "<b><i>d</i></b>", 44, color="#ff0000")
text_data(2017.96, 66.5, "<b><i>W</i></b>", 66, color="#632b2b")
text_data(2018.19, 69.4, "<b><i>base</i></b>", 46, color="#632b2b")
text_data(2018.20, 64.0, "<b><i>a</i></b>", 46, color="#632b2b")

fig.update_layout(
    width=W, height=H, margin=dict(l=0, r=0, t=0, b=0),
    paper_bgcolor="white", plot_bgcolor="rgba(0,0,0,0)", showlegend=False,
    xaxis=dict(domain=[210 / W, 2694 / W], range=[2012.665, 2021.166], showline=True, linecolor="black",
               linewidth=4, showticklabels=False, ticks="", showgrid=False, zeroline=False, anchor="y"),
    yaxis=dict(domain=[1 - 1743 / H, 1 - 130 / H], range=[36.26, 173.54], tickvals=Y_TICKS, ticks="outside",
               ticklen=14, tickwidth=3, tickcolor="#333333",
               tickfont=dict(family="Liberation Sans", size=58, color="#333333"),
               showline=True, linecolor="black", linewidth=4, showgrid=False, zeroline=False, anchor="x"),
    xaxis2=dict(domain=[2745.5 / W, 1], range=[0, DENS_MAX], visible=False, anchor="y"),
    shapes=shapes, annotations=ann,
)

fig.write_html("out.html")
